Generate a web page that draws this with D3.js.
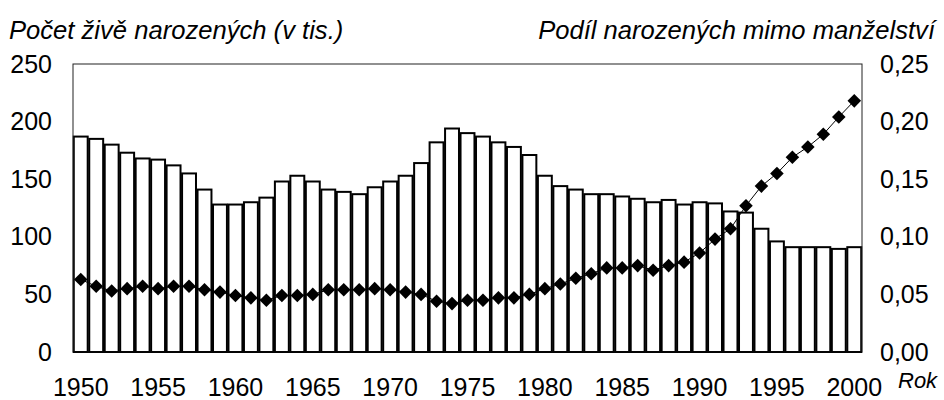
<!DOCTYPE html>
<html>
<head>
<meta charset="utf-8">
<script src="https://cdn.jsdelivr.net/npm/d3@7"></script>
<style>
  body { margin: 0; background: #fff; }
  text { font-family: "Liberation Sans", Arial, sans-serif; fill: #000; }
</style>
</head>
<body>
<div id="chart"></div>
<script>
// roky 1950-2000
const years = d3.range(1950, 2001);

// pocet zive narozenych (tis.)
const births = [
  187, 185, 180, 173, 168, 167, 162, 155, 141, 128,
  128, 130, 134, 148, 153, 148, 141, 139, 137, 143,
  148, 153, 164, 182, 194, 190, 187, 182, 178, 171,
  153, 144, 141, 137, 137, 135, 133, 130, 132, 128,
  130, 129, 122, 121, 107, 96, 91, 91, 91, 89.5, 91
];

// podil narozenych mimo manzelstvi
const share = [
  0.063, 0.057, 0.053, 0.055, 0.057, 0.055, 0.057, 0.057, 0.054, 0.052,
  0.049, 0.047, 0.045, 0.049, 0.049, 0.050, 0.054, 0.054, 0.054, 0.055,
  0.054, 0.052, 0.050, 0.044, 0.042, 0.045, 0.045, 0.047, 0.047, 0.050,
  0.055, 0.059, 0.064, 0.068, 0.073, 0.073, 0.075, 0.071, 0.075, 0.078,
  0.086, 0.098, 0.107, 0.127, 0.144, 0.155, 0.169, 0.178, 0.189, 0.204, 0.218
];

const leftTicks = [0, 50, 100, 150, 200, 250];
const rightTicks = [0, 0.05, 0.10, 0.15, 0.20, 0.25];
const yearTicks = [1950, 1955, 1960, 1965, 1970, 1975, 1980, 1985, 1990, 1995, 2000];

const width = 944, height = 400;
const margin = {top: 64, right: 82, bottom: 48, left: 73};

const svg = d3.select("#chart").append("svg")
    .attr("width", width)
    .attr("height", height);

let x = d3.scaleBand()
    .domain(years)
    .range([margin.left, width - margin.right])
    .paddingInner(0.1)
    .paddingOuter(0.05);

let y = d3.scaleLinear()
    .domain([0, 250])
    .range([height - margin.bottom, margin.top]);

let y2 = d3.scaleLinear()
    .domain([0, 0.25])
    .range([height - margin.bottom, margin.top]);

// sloupce
svg.append("g")
    .selectAll("rect")
    .data(births)
    .enter().append("rect")
    .attr("x", (d, i) => x(years[i]))
    .attr("y", d => y(d))
    .attr("width", x.bandwidth())
    .attr("height", d => y(0) - y(d))
    .style("fill", "#fff")
    .style("stroke", "#000")
    .style("stroke-width", 2);

// ramecek
svg.append("rect")
    .attr("x", margin.left)
    .attr("y", margin.top)
    .attr("width", width - margin.left - margin.right)
    .attr("height", height - margin.top - margin.bottom)
    .style("fill", "none")
    .style("stroke", "#222")
    .style("stroke-width", 1);

svg.append("line")
    .attr("x1", margin.left).attr("x2", width - margin.right)
    .attr("y1", y(0)).attr("y2", y(0))
    .style("stroke", "#000")
    .style("stroke-width", 1.6);

// linie podilu
let line = d3.line()
    .x((d, i) => x(years[i]) + x.bandwidth() / 2)
    .y(d => y2(d));

svg.append("path")
    .datum(share)
    .attr("d", line)
    .style("fill", "none")
    .style("stroke", "#000")
    .style("stroke-width", 1);

let diamond = d3.symbol().type(d3.symbolSquare).size(92);

svg.append("g")
    .selectAll("path")
    .data(share)
    .enter().append("path")
    .attr("d", diamond)
    .attr("transform", (d, i) => "translate(" + (x(years[i]) + x.bandwidth() / 2) + "," + y2(d) + ") rotate(45)")
    .style("fill", "#000");

// osy
let leftAxis = svg.append("g")
    .attr("transform", "translate(" + margin.left + ",0)")
    .call(d3.axisLeft(y).tickValues(leftTicks).tickSize(0).tickPadding(21));

let rightAxis = svg.append("g")
    .attr("transform", "translate(" + (width - margin.right) + ",0)")
    .call(d3.axisRight(y2).tickValues(rightTicks).tickSize(0).tickPadding(18)
        .tickFormat(d => d3.format(".2f")(d).replace(".", ",")));

let bottomAxis = svg.append("g")
    .attr("transform", "translate(0," + y(0) + ")")
    .call(d3.axisBottom(x).tickValues(yearTicks).tickSize(0).tickPadding(26));

[leftAxis, rightAxis, bottomAxis].forEach(a => {
    a.select(".domain").remove();
    a.selectAll("text")
        .style("font-family", "'Liberation Sans', Arial, sans-serif")
        .style("font-size", "25px")
        .style("fill", "#000");
});

// popisky
svg.append("text")
    .attr("x", 9)
    .attr("y", 39)
    .style("font-size", "25.6px")
    .style("font-style", "italic")
    .text("Počet živě narozených (v tis.)");

svg.append("text")
    .attr("x", 935)
    .attr("y", 39)
    .attr("text-anchor", "end")
    .style("font-size", "25.6px")
    .style("font-style", "italic")
    .text("Podíl narozených mimo manželství");

svg.append("text")
    .attr("x", 898)
    .attr("y", 388)
    .style("font-size", "22px")
    .style("font-style", "italic")
    .text("Rok");
</script>
</body>
</html>
